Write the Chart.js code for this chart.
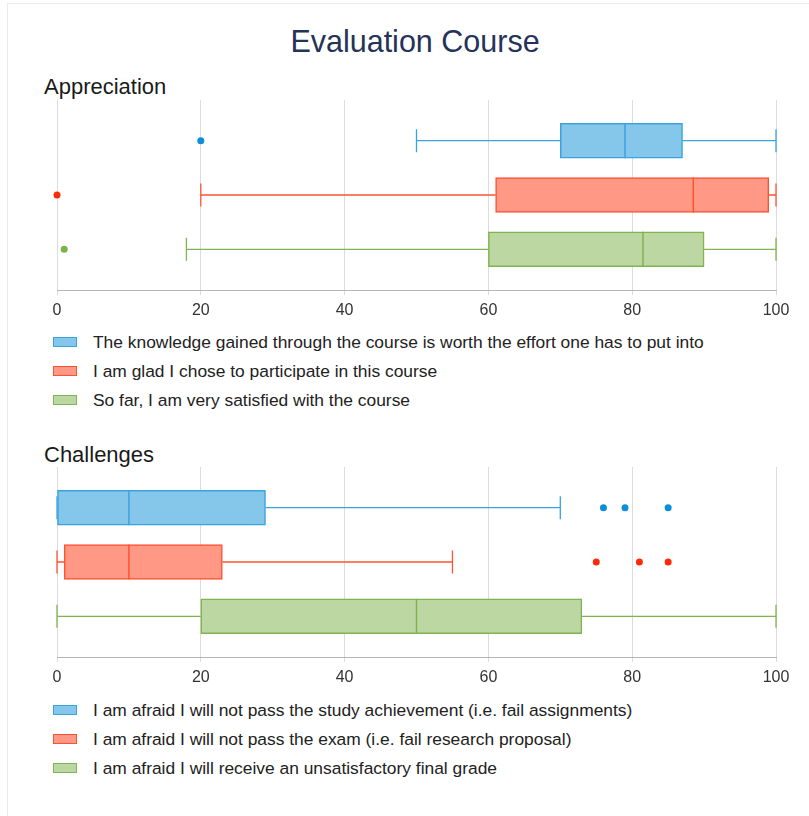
<!DOCTYPE html>
<html>
<head>
<meta charset="utf-8">
<script src="https://cdn.jsdelivr.net/npm/chart.js@4.4.1/dist/chart.umd.min.js"></script>
<style>
  body { margin: 0; background: #fff; font-family: "Liberation Sans", Arial, sans-serif; }
  .card { position: absolute; left: 7px; top: 3px; width: 830px; height: 840px; border: 1px solid #e6ecef; }
  .title { position: absolute; left: 0; width: 830px; top: 21px; text-align: center; font-size: 30.5px; color: #243358; line-height: 40px; }
  .sub { position: absolute; left: 44px; font-size: 22px; color: #1a1a1a; line-height: 24px; }
  .wrap { position: absolute; left: 0; width: 809px; height: 230px; }
  .legend { position: absolute; left: 53px; font-size: 17.4px; color: #222; }
  .legend div { height: 29px; line-height: 29px; white-space: nowrap; }
  .legend span { display: inline-block; width: 22px; height: 8px; border: 1px solid; margin-right: 16px; vertical-align: middle; position: relative; top: -1px; }
</style>
</head>
<body>
<div class="card"></div>
<div class="title">Evaluation Course</div>
<div class="sub" style="top:75px">Appreciation</div>
<div class="wrap" style="top:95px"><canvas id="chartA"></canvas></div>
<div class="legend" id="legendA" style="top:328px"></div>
<div class="sub" style="top:443px">Challenges</div>
<div class="wrap" style="top:462px"><canvas id="chartB"></canvas></div>
<div class="legend" id="legendB" style="top:696px"></div>
<script>
// series colours (fill, border, outlier dot)
const fillColors = ['#85c7ea', '#ff9985', '#bdd7a2'];
const borderColors = ['#3aa3dd', '#ff5233', '#7fb450'];
const dotColors = ['#0b8fd7', '#ff2a08', '#79b446'];
const xTicks = [0, 20, 40, 60, 80, 100];

// Appreciation
const appreciationLabels = [
    'The knowledge gained through the course is worth the effort one has to put into',
    'I am glad I chose to participate in this course',
    'So far, I am very satisfied with the course'
];
const appreciationMin = [50, 20, 18];
const appreciationQ1 = [70, 61, 60];
const appreciationMedian = [79, 88.5, 81.5];
const appreciationQ3 = [87, 99, 90];
const appreciationMax = [100, 100, 100];
const appreciationOutliers = [[20], [0], [1]];

// Challenges
const challengeLabels = [
    'I am afraid I will not pass the study achievement (i.e. fail assignments)',
    'I am afraid I will not pass the exam (i.e. fail research proposal)',
    'I am afraid I will receive an unsatisfactory final grade'
];
const challengeMin = [0, 0, 0];
const challengeQ1 = [0, 1, 20];
const challengeMedian = [10, 10, 50];
const challengeQ3 = [29, 23, 73];
const challengeMax = [70, 55, 100];
const challengeOutliers = [[76, 79, 85], [75, 81, 85], []];

// whiskers, caps and medians drawn on top of the floating bars
const boxWhiskers = {
    id: 'boxWhiskers',
    afterDatasetsDraw(chart, args, opts) {
        const ctx = chart.ctx;
        const x = chart.scales.x, y = chart.scales.y;
        const half = 17.5, cap = 11.5;
        ctx.save();
        opts.median.forEach((m, i) => {
            const cy = y.getPixelForValue(i + 1);
            const px = v => x.getPixelForValue(v);
            ctx.strokeStyle = borderColors[i];
            ctx.lineWidth = 1.3;
            ctx.beginPath();
            ctx.moveTo(px(opts.min[i]), cy); ctx.lineTo(px(opts.q1[i]), cy);
            ctx.moveTo(px(opts.q3[i]), cy); ctx.lineTo(px(opts.max[i]), cy);
            ctx.moveTo(px(opts.min[i]), cy - cap); ctx.lineTo(px(opts.min[i]), cy + cap);
            ctx.moveTo(px(opts.max[i]), cy - cap); ctx.lineTo(px(opts.max[i]), cy + cap);
            ctx.stroke();
            ctx.lineWidth = 1.5;
            ctx.beginPath();
            ctx.moveTo(px(m), cy - half); ctx.lineTo(px(m), cy + half);
            ctx.stroke();
        });
        ctx.restore();
    }
};

function drawBoxChart(canvasId, legendId, labels, min, q1, median, q3, max, outliers) {
    const datasets = labels.map((label, i) => ({
        type: 'bar',
        label: label,
        data: [{ x: [q1[i], q3[i]], y: i + 1 }],
        backgroundColor: fillColors[i],
        borderColor: borderColors[i],
        borderWidth: 1.5,
        borderSkipped: false,
        barThickness: 35,
        grouped: false,
        order: 2
    }));
    outliers.forEach((vals, i) => {
        datasets.push({
            type: 'scatter',
            label: labels[i] + ' outliers',
            data: vals.map(v => ({ x: v, y: i + 1 })),
            pointRadius: 3.5,
            pointBorderWidth: 0,
            backgroundColor: dotColors[i],
            borderColor: dotColors[i],
            clip: false,
            order: 1
        });
    });

    new Chart(document.getElementById(canvasId), {
        type: 'bar',
        data: { datasets },
        plugins: [boxWhiskers],
        options: {
            indexAxis: 'y',
            responsive: true,
            maintainAspectRatio: false,
            animation: false,
            layout: { padding: { left: 57, right: 33, top: 5, bottom: 0 } },
            plugins: {
                legend: { display: false },
                tooltip: { enabled: false },
                boxWhiskers: { min, q1, median, q3, max }
            },
            scales: {
                x: {
                    type: 'linear', position: 'bottom', min: 0, max: 100, offset: false,
                    afterBuildTicks: s => { s.ticks = xTicks.map(v => ({ value: v })); },
                    afterFit: s => { s.height = 35; },
                    grid: { color: '#dcdcdc', tickLength: 5, tickColor: '#dcdcdc', offset: false },
                    border: { color: '#b5b5b5', width: 1 },
                    ticks: { color: '#333', padding: 6, font: { family: 'Liberation Sans', size: 16 } }
                },
                y: { type: 'linear', reverse: true, min: 0.25, max: 3.75, offset: false, display: false }
            }
        }
    });

    document.getElementById(legendId).innerHTML = labels.map((label, i) =>
        '<div><span style="background:' + fillColors[i] + ';border-color:' + borderColors[i] + '"></span>' + label + '</div>'
    ).join('');
}

drawBoxChart('chartA', 'legendA', appreciationLabels, appreciationMin, appreciationQ1,
    appreciationMedian, appreciationQ3, appreciationMax, appreciationOutliers);
drawBoxChart('chartB', 'legendB', challengeLabels, challengeMin, challengeQ1,
    challengeMedian, challengeQ3, challengeMax, challengeOutliers);
</script>
</body>
</html>
